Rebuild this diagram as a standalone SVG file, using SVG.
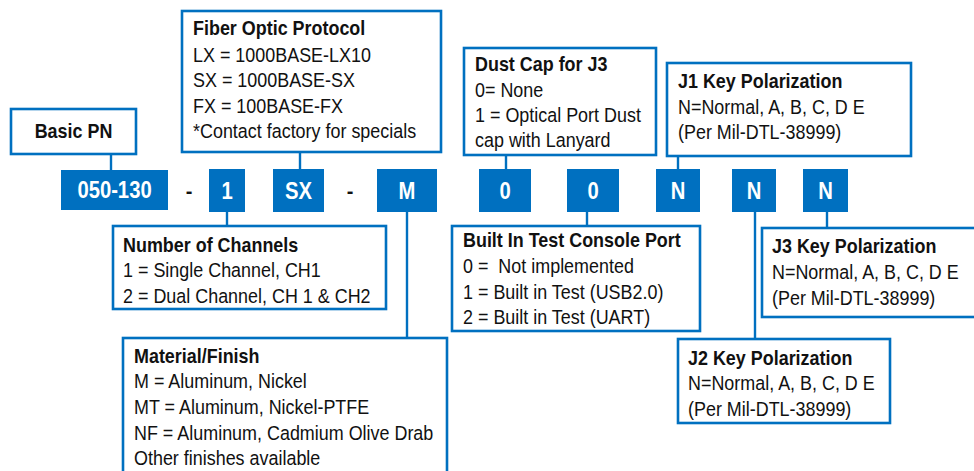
<svg xmlns="http://www.w3.org/2000/svg" width="974" height="471" viewBox="0 0 974 471">
<style>
.box{fill:#fff;stroke:#0070C0;stroke-width:2.6}
.blk{fill:#0070C0}
.bt{font-family:"Liberation Sans",Arial,sans-serif;font-size:23px;font-weight:bold;fill:#fff;text-anchor:middle}
.t{font-family:"Liberation Sans",Arial,sans-serif;font-size:19.5px;fill:#111;white-space:pre}
.h{font-weight:bold}
.dash{font-family:"Liberation Sans",Arial,sans-serif;font-size:20px;font-weight:bold;fill:#111;text-anchor:middle}
.c{stroke:#0070C0;stroke-width:2.4;fill:none}
</style>
<rect width="974" height="471" fill="#fff"/>
<g id="connectors">
<line class="c" x1="111" y1="154" x2="111" y2="170"/>
<line class="c" x1="300" y1="152" x2="300" y2="169"/>
<line class="c" x1="506" y1="155" x2="506" y2="169"/>
<line class="c" x1="678" y1="156" x2="678" y2="169"/>
<line class="c" x1="227" y1="212" x2="227" y2="226"/>
<line class="c" x1="407" y1="212" x2="407" y2="338"/>
<line class="c" x1="587" y1="212" x2="587" y2="226"/>
<line class="c" x1="755" y1="212" x2="755" y2="339"/>
<line class="c" x1="827" y1="212" x2="827" y2="228"/>
</g>
<g id="blk-basic"><rect class="blk" x="61" y="170" width="107" height="40"/><text class="bt" transform="matrix(0.88 0 0 1 114.5 0)" x="0" y="198">050-130</text></g>
<g id="dash1"><text class="dash" x="189" y="198">-</text></g>
<g id="blk-ch"><rect class="blk" x="209" y="169" width="36" height="43"/><text class="bt" transform="matrix(0.88 0 0 1 227 0)" x="0" y="199">1</text></g>
<g id="blk-sx"><rect class="blk" x="273" y="169" width="51" height="43"/><text class="bt" transform="matrix(0.88 0 0 1 298.5 0)" x="0" y="199">SX</text></g>
<g id="dash2"><text class="dash" x="350" y="198">-</text></g>
<g id="blk-m"><rect class="blk" x="377" y="169" width="60" height="43"/><text class="bt" transform="matrix(0.88 0 0 1 407 0)" x="0" y="199">M</text></g>
<g id="blk-0a"><rect class="blk" x="479" y="169" width="52" height="43"/><text class="bt" transform="matrix(0.88 0 0 1 505 0)" x="0" y="199">0</text></g>
<g id="blk-0b"><rect class="blk" x="567" y="169" width="52" height="43"/><text class="bt" transform="matrix(0.88 0 0 1 593 0)" x="0" y="199">0</text></g>
<g id="blk-n1"><rect class="blk" x="656" y="169" width="44" height="43"/><text class="bt" transform="matrix(0.88 0 0 1 678 0)" x="0" y="199">N</text></g>
<g id="blk-n2"><rect class="blk" x="732" y="169" width="44" height="43"/><text class="bt" transform="matrix(0.88 0 0 1 754 0)" x="0" y="199">N</text></g>
<g id="blk-n3"><rect class="blk" x="803" y="169" width="45" height="43"/><text class="bt" transform="matrix(0.88 0 0 1 825.5 0)" x="0" y="199">N</text></g>
<g id="basic-pn"><rect class="box" x="11" y="109" width="125" height="45"/><text class="t h" transform="matrix(0.92 0 0 1 73.5 0)" x="0" y="138" text-anchor="middle">Basic PN</text></g>
<g id="fiber"><rect class="box" x="182" y="11" width="259" height="141"/>
<g transform="matrix(0.92 0 0 1 193 0)">
<text class="t h" x="0" y="35">Fiber Optic Protocol</text>
<text class="t" x="0" y="62">LX = 1000BASE-LX10</text>
<text class="t" x="0" y="87">SX = 1000BASE-SX</text>
<text class="t" x="0" y="113">FX = 100BASE-FX</text>
<text class="t" x="0" y="138">*Contact factory for specials</text></g></g>
<g id="dust"><rect class="box" x="464" y="48" width="192" height="107"/>
<g transform="matrix(0.92 0 0 1 475 0)">
<text class="t h" x="0" y="71">Dust Cap for J3</text>
<text class="t" x="0" y="97">0= None</text>
<text class="t" x="0" y="122">1 = Optical Port Dust</text>
<text class="t" x="0" y="147">cap with Lanyard</text></g></g>
<g id="j1"><rect class="box" x="667" y="63" width="244" height="93"/>
<g transform="matrix(0.92 0 0 1 678 0)">
<text class="t h" x="0" y="88">J1 Key Polarization</text>
<text class="t" x="0" y="114">N=Normal, A, B, C, D E</text>
<text class="t" x="0" y="139">(Per Mil-DTL-38999)</text></g></g>
<g id="channels"><rect class="box" x="113" y="226" width="273" height="83"/>
<g transform="matrix(0.92 0 0 1 123 0)">
<text class="t h" x="0" y="252">Number of Channels</text>
<text class="t" x="0" y="277">1 = Single Channel, CH1</text>
<text class="t" x="0" y="303">2 = Dual Channel, CH 1 &amp; CH2</text></g></g>
<g id="material"><rect class="box" x="123" y="338" width="324" height="150"/>
<g transform="matrix(0.92 0 0 1 134 0)">
<text class="t h" x="0" y="363">Material/Finish</text>
<text class="t" x="0" y="388">M = Aluminum, Nickel</text>
<text class="t" x="0" y="414">MT = Aluminum, Nickel-PTFE</text>
<text class="t" x="0" y="440">NF = Aluminum, Cadmium Olive Drab</text>
<text class="t" x="0" y="465">Other finishes available</text></g></g>
<g id="bit"><rect class="box" x="452" y="226" width="248" height="105"/>
<g transform="matrix(0.92 0 0 1 463 0)">
<text class="t h" x="0" y="247">Built In Test Console Port</text>
<text class="t" x="0" y="273" xml:space="preserve">0 =  Not implemented</text>
<text class="t" x="0" y="299">1 = Built in Test (USB2.0)</text>
<text class="t" x="0" y="324">2 = Built in Test (UART)</text></g></g>
<g id="j3"><rect class="box" x="762" y="228" width="220" height="89"/>
<g transform="matrix(0.92 0 0 1 772 0)">
<text class="t h" x="0" y="253">J3 Key Polarization</text>
<text class="t" x="0" y="279">N=Normal, A, B, C, D E</text>
<text class="t" x="0" y="305">(Per Mil-DTL-38999)</text></g></g>
<g id="j2"><rect class="box" x="678" y="339" width="212" height="84"/>
<g transform="matrix(0.92 0 0 1 688 0)">
<text class="t h" x="0" y="365">J2 Key Polarization</text>
<text class="t" x="0" y="390">N=Normal, A, B, C, D E</text>
<text class="t" x="0" y="416">(Per Mil-DTL-38999)</text></g></g>
</svg>
